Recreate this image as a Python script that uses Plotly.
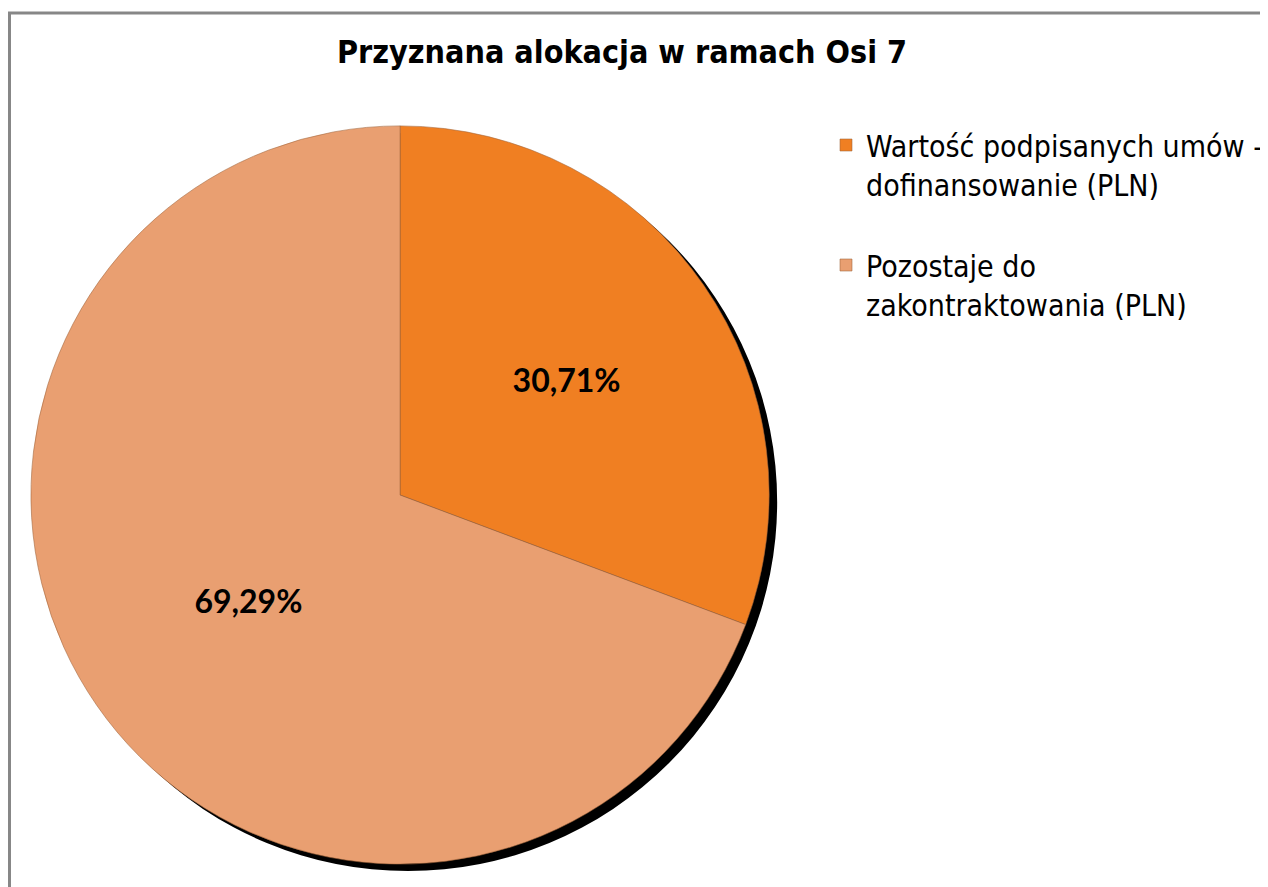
import plotly.graph_objects as go

labels = ["Wartość podpisanych umów -<br>dofinansowanie (PLN)<br> ",
          "Pozostaje do<br>zakontraktowania (PLN)"]
values = [30.71, 69.29]
colors = ["#F07F22", "#E99F71"]

OFF = 8  # default page body margin
W, H = 1268 - OFF, 887 - OFF

def px(x):
    return (x - OFF) / W

def py(y):
    return 1 - (y - OFF) / H

cx, cy, r = 401, 495, 370

def dom(cx, cy, r):
    return dict(x=[px(cx - r), px(cx + r)], y=[py(cy + r), py(cy - r)])

FONT = "Liberation Sans Narrow, Arial Narrow, DejaVu Sans Condensed, sans-serif"

fig = go.Figure()
# drop shadow
fig.add_trace(go.Pie(values=[1], marker=dict(colors=["#000000"]), textinfo="none",
                     hoverinfo="skip", showlegend=False, sort=False,
                     domain=dom(cx + 8, cy + 7, r)))
fig.add_trace(go.Pie(
    labels=labels, values=values, sort=False, direction="clockwise", rotation=0,
    marker=dict(colors=colors, line=dict(color="rgba(160,100,60,0.7)", width=0.8)),
    texttemplate="<b>%{percent:.2%}</b>", textposition="inside",
    insidetextfont=dict(family="Lato, Carlito, Calibri, sans-serif", size=32, color="#000000"),
    insidetextorientation="horizontal",
    domain=dom(cx, cy, r),
))

fig.update_layout(
    width=W, height=H,
    margin=dict(l=0, r=0, t=0, b=0),
    paper_bgcolor="white",
    separators=", ",
    title=dict(text="<b>Przyznana alokacja w ramach Osi 7</b>",
               font=dict(family=FONT, size=32, color="#000000"),
               x=px(622), xanchor="center", y=py(52), yanchor="middle"),
    legend=dict(x=px(828), xanchor="left", y=py(119), yanchor="top",
                valign="top", traceorder="normal",
                font=dict(family=FONT, size=30, color="#000000"),
                bgcolor="rgba(0,0,0,0)"),
    shapes=[dict(type="rect", xref="paper", yref="paper",
                 x0=1.5 / W, x1=1.05, y0=-0.05, y1=py(13),
                 line=dict(color="#878787", width=3), layer="below")],
)

fig.write_html("out.html")
